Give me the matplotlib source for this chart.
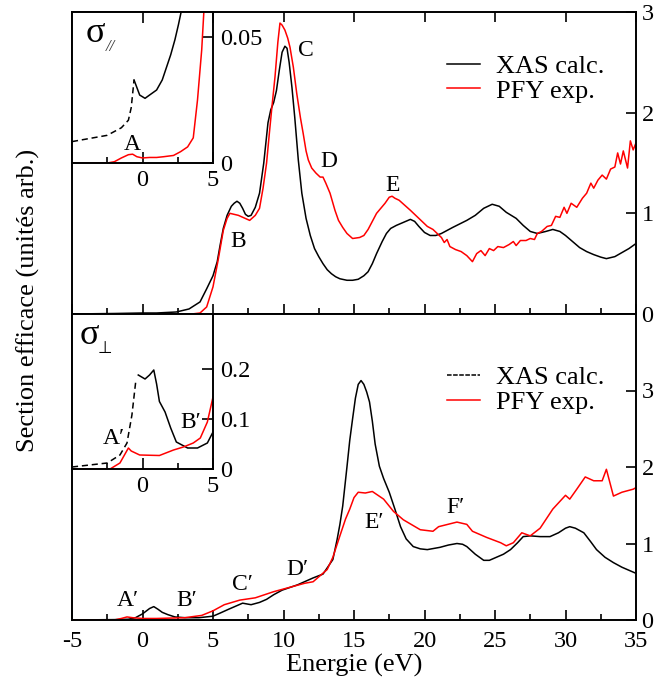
import numpy as np
import matplotlib
matplotlib.use("Agg")
import matplotlib.pyplot as plt
from matplotlib.lines import Line2D
from matplotlib.ticker import MultipleLocator

plt.rcParams['font.family'] = ['Liberation Serif', 'DejaVu Sans']
plt.rcParams['axes.unicode_minus'] = False

# ---- sigma // (top panel), main curves ----
e_xas_par = [-5, -2, 0, 1, 2.4, 3.3, 4.08, 4.55, 5.0, 5.3, 5.5, 5.73, 6.0, 6.3, 6.5, 6.7, 6.9,
             7.1, 7.3, 7.5, 7.7, 8.0, 8.3, 8.6, 8.9, 9.1, 9.3, 9.5, 9.7, 9.9, 10.1, 10.25, 10.4,
             10.6, 10.8, 11.05, 11.3, 11.6, 11.9, 12.2, 12.5, 12.8, 13.1, 13.4, 13.7, 14.0, 14.5,
             14.9, 15.3, 15.7, 16.0, 16.3, 16.6, 17.0, 17.3, 17.6, 18.0, 18.5, 19.0, 19.3, 19.6,
             20.0, 20.4, 20.8, 21.2, 22.0, 23.0, 23.6, 24.2, 24.8, 25.3, 25.8, 26.5, 27.0, 27.5,
             28.0, 28.6, 29.1, 29.6, 30.0, 30.5, 31.0, 31.5, 32.0, 32.5, 32.9, 33.5, 34.0, 34.5,
             35.0]
xas_par = [0.0, 0.005, 0.01, 0.01, 0.02, 0.05, 0.12, 0.25, 0.38, 0.52, 0.68, 0.85, 0.98, 1.07,
           1.1, 1.12, 1.1, 1.05, 0.99, 0.97, 0.98, 1.06, 1.2, 1.5, 1.9, 2.03, 2.1, 2.22, 2.42,
           2.6, 2.66, 2.64, 2.5, 2.25, 1.95, 1.53, 1.2, 0.95, 0.78, 0.65, 0.57, 0.5, 0.44, 0.4,
           0.37, 0.35, 0.335, 0.335, 0.345, 0.38, 0.42, 0.5, 0.6, 0.72, 0.8, 0.85, 0.88, 0.91,
           0.94, 0.92, 0.87, 0.81, 0.78, 0.78, 0.8, 0.86, 0.93, 0.98, 1.05, 1.09, 1.07, 1.01,
           0.95, 0.88, 0.82, 0.8, 0.82, 0.84, 0.82, 0.78, 0.72, 0.66, 0.62, 0.59, 0.565, 0.55,
           0.57, 0.61, 0.65, 0.7]

e_pfy_par = [-5, 3.5, 4.08, 4.55, 5.0, 5.37, 5.73, 6.0, 6.2, 6.8, 7.6, 8.0, 8.3, 8.55, 8.8, 9.0,
             9.16, 9.4, 9.6, 9.75, 9.9, 10.1, 10.3, 10.46, 10.7, 10.94, 11.2, 11.4, 11.6, 11.76,
             12.0, 12.3, 12.6, 12.8, 13.0, 13.3, 13.65, 13.9, 14.2, 14.5, 14.9, 15.4, 15.7, 16.0,
             16.3, 16.6, 16.9, 17.2, 17.5, 17.7, 17.9, 18.2, 18.6, 19.0, 19.3, 19.6, 20.2, 20.6,
             20.9, 21.2, 21.4, 21.6, 21.8, 22.2, 22.6, 23.0, 23.4, 23.7, 24.0, 24.3, 24.6, 24.9,
             25.2, 25.6, 26.0, 26.3, 26.5, 26.8, 27.2, 27.5, 27.8, 28.0, 28.3, 28.7, 29.0, 29.3,
             29.6, 29.9, 30.1, 30.4, 30.8, 31.2, 31.5, 31.8, 32.0, 32.3, 32.6, 32.9, 33.2, 33.5,
             33.7, 33.9, 34.1, 34.4, 34.6, 34.8, 35.0]
pfy_par = [0.0, 0.0, 0.01, 0.07, 0.27, 0.54, 0.83, 0.95, 1.0, 0.98, 0.93, 0.98, 1.05, 1.25, 1.5,
           1.8, 2.03, 2.36, 2.7, 2.89, 2.87, 2.82, 2.74, 2.65, 2.45, 2.19, 1.95, 1.79, 1.62,
           1.53, 1.45, 1.4, 1.36, 1.36, 1.3, 1.2, 1.03, 0.93, 0.86, 0.8, 0.75, 0.76, 0.78, 0.84,
           0.92, 1.0, 1.05, 1.1, 1.16, 1.17, 1.15, 1.13, 1.08, 1.03, 0.99, 0.95, 0.87, 0.84,
           0.8, 0.76, 0.71, 0.74, 0.67, 0.64, 0.62, 0.58, 0.52, 0.6, 0.63, 0.58, 0.65, 0.63,
           0.67, 0.66, 0.69, 0.72, 0.68, 0.73, 0.73, 0.75, 0.74, 0.8, 0.82, 0.87, 0.88, 0.97,
           0.96, 1.06, 1.0, 1.1, 1.06, 1.15, 1.2, 1.3, 1.25, 1.33, 1.38, 1.34, 1.44, 1.46, 1.6,
           1.49, 1.62, 1.45, 1.72, 1.63, 1.7]

# ---- sigma // inset (low energy zoom) ----
ie_xas_par = [-5, -4, -3, -2.5, -2, -1.5, -1.0, -0.8, -0.6, -0.4, -0.2, 0.18, 0.5, 1.0, 1.4,
              1.7, 2.0, 2.3, 2.55, 2.72, 3.0]
ixas_par = [0.0085, 0.0095, 0.0105, 0.011, 0.0125, 0.014, 0.017, 0.022, 0.033, 0.03, 0.027,
            0.0257, 0.027, 0.029, 0.033, 0.038, 0.043, 0.049, 0.055, 0.0595, 0.068]
ie_pfy_par = [-5, -2.5, -2.0, -1.5, -1.0, -0.7, -0.4, 0.0, 0.5, 1.0, 1.5, 2.2, 2.7, 3.2, 3.6,
              3.9, 4.2, 4.4, 4.6]
ipfy_par = [0.0, 0.0, 0.0005, 0.002, 0.0033, 0.0035, 0.0025, 0.002, 0.0022, 0.0022, 0.0025,
            0.003, 0.0045, 0.0064, 0.010, 0.025, 0.045, 0.065, 0.08]

# ---- sigma perp (bottom panel), main curves ----
e_xas_perp = [-5, -2, -1, -0.5, 0, 0.5, 0.8, 1.1, 1.4, 1.8, 2.3, 3.0, 4.0, 5.0, 5.5, 6.1, 6.6,
              7.1, 7.7, 8.3, 8.8, 9.3, 9.9, 11.0, 12.1, 12.8, 13.5, 13.8, 14.0, 14.2, 14.5, 14.7,
              14.9, 15.1, 15.3, 15.5, 15.7, 15.9, 16.1, 16.3, 16.5, 16.8, 17.1, 17.5, 17.9, 18.3,
              18.7, 19.2, 19.7, 20.2, 21.1, 21.7, 22.3, 22.7, 23.0, 23.6, 24.2, 24.6, 25.1, 25.6,
              26.1, 26.6, 27.0, 27.5, 28.2, 28.9, 29.5, 30.0, 30.3, 30.7, 31.3, 31.8, 32.2, 32.8,
              33.4, 34.0, 34.5, 35.0]
xas_perp = [0.0, 0.005, 0.01, 0.03, 0.08, 0.15, 0.175, 0.14, 0.1, 0.07, 0.04, 0.03, 0.03, 0.05,
            0.09, 0.14, 0.18, 0.22, 0.2, 0.23, 0.27, 0.33, 0.39, 0.46, 0.55, 0.6, 0.79, 1.05,
            1.25, 1.49, 2.0, 2.35, 2.63, 2.9, 3.08, 3.13, 3.08, 2.98, 2.85, 2.6, 2.3, 2.01, 1.85,
            1.67, 1.45, 1.22, 1.06, 0.96, 0.93, 0.92, 0.95, 0.98, 1.0, 0.99, 0.96, 0.86, 0.78,
            0.78, 0.82, 0.86, 0.92, 1.01, 1.09, 1.1, 1.09, 1.09, 1.14, 1.2, 1.22, 1.2, 1.14,
            1.02, 0.92, 0.82, 0.75, 0.69, 0.65, 0.61]

e_pfy_perp = [-5, -2, -1.5, -1.1, -0.7, 0, 1, 2, 3, 4.2, 5.0, 5.8, 6.9, 8.0, 9.3, 10.5, 11.5,
              12.1, 13.1, 13.5, 14.0, 14.4, 14.7, 15.0, 15.3, 15.8, 16.3, 17.1, 17.8, 18.5, 19.7,
              20.6, 21.0, 22.3, 23.0, 23.4, 24.4, 25.4, 25.8, 26.3, 26.9, 27.5, 28.2, 29.1, 30.0,
              30.3, 30.8, 31.4, 32.0, 32.6, 32.9, 33.4, 34.0, 34.8, 35.0]
pfy_perp = [0.0, 0.0, 0.02, 0.04, 0.03, 0.02, 0.02, 0.025, 0.03, 0.06, 0.12, 0.2, 0.26, 0.29,
            0.37, 0.43, 0.48, 0.5, 0.66, 0.82, 1.1, 1.32, 1.45, 1.6, 1.67, 1.66, 1.68, 1.58,
            1.42, 1.31, 1.18, 1.16, 1.22, 1.28, 1.25, 1.16, 1.08, 1.01, 0.97, 1.01, 1.14, 1.1,
            1.2, 1.45, 1.63, 1.58, 1.71, 1.87, 1.82, 1.82, 1.97, 1.62, 1.67, 1.71, 1.73]

# ---- sigma perp inset ----
ie_xas_perp = [-5, -2.5, -1.6, -1.1, -0.75, -0.46, -0.3, 0.18, 0.5, 0.8, 1.0, 1.2, 1.6, 2.0,
               2.4, 3.2, 3.9, 4.6, 5.0]
ixas_perp = [0.004, 0.012, 0.028, 0.052, 0.108, 0.18, 0.188, 0.18, 0.188, 0.198, 0.17, 0.135,
             0.114, 0.082, 0.054, 0.042, 0.042, 0.052, 0.074]
ie_pfy_perp = [-5, -2.3, -1.6, -1.0, -0.8, -0.2, 1.2, 2.2, 2.9, 3.6, 4.1, 4.6, 5.0]
ipfy_perp = [0.0, 0.0, 0.012, 0.042, 0.036, 0.028, 0.027, 0.038, 0.044, 0.052, 0.062, 0.094,
             0.144]

W, H = 657, 682
fig = plt.figure(figsize=(W / 100, H / 100), dpi=100)


def px_axes(l, t, r, b):
    return fig.add_axes([l / W, 1 - b / H, (r - l) / W, (b - t) / H])


ax1 = px_axes(72, 12, 636, 314)
ax2 = px_axes(72, 314, 636, 620)
ins1 = px_axes(72, 12, 213, 163)
ins2 = px_axes(72, 314, 213, 469)

LW = 1.1
TFS = 17.5
for ax in (ax1, ax2, ins1, ins2):
    for s in ax.spines.values():
        s.set_linewidth(1.4)

# main panels
ax1.plot(e_xas_par, xas_par, color='k', lw=LW)
ax1.plot(e_pfy_par, pfy_par, color='red', lw=LW)
ax2.plot(e_xas_perp, xas_perp, color='k', lw=LW)
ax2.plot(e_pfy_perp, pfy_perp, color='red', lw=LW)

for ax in (ax1, ax2):
    ax.set_xlim(-5, 35)
    ax.xaxis.set_major_locator(MultipleLocator(5))
    ax.xaxis.set_minor_locator(MultipleLocator(2.5))
    ax.yaxis.set_major_locator(MultipleLocator(1))
    ax.tick_params(axis='both', which='both', direction='in', width=1.2, labelsize=TFS)
    ax.tick_params(which='major', length=7)
    ax.tick_params(which='minor', length=4.5)
    ax.tick_params(axis='y', left=False, right=True, labelleft=False, labelright=True, pad=4)

ax1.set_ylim(0, 3)
ax1.tick_params(axis='x', top=True, bottom=True, labelbottom=False)
ax2.set_ylim(0, 4)
ax2.set_yticks([0, 1, 2, 3])
ax2.tick_params(axis='x', top=False, bottom=True, labelbottom=True, pad=8)
ax2.set_xlabel('Energie (eV)', fontsize=19, labelpad=1)
fig.text(28 / W, 1 - 300 / H, 'Section efficace (unités arb.)', rotation=90,
         ha='center', va='center', fontsize=19)

# legends
ax1.legend(handles=[Line2D([], [], color='k', lw=LW), Line2D([], [], color='red', lw=LW)],
           labels=['XAS calc.', 'PFY exp.'], loc='upper left', bbox_to_anchor=(0.665, 0.86),
           frameon=False, fontsize=19, handlelength=1.25, handletextpad=0.6,
           labelspacing=0.05, borderpad=0, borderaxespad=0)
ax2.legend(handles=[Line2D([], [], color='k', lw=LW, ls=(0, (3, 1))),
                    Line2D([], [], color='red', lw=LW)],
           labels=['XAS calc.', 'PFY exp.'], loc='upper left', bbox_to_anchor=(0.665, 0.83),
           frameon=False, fontsize=19, handlelength=1.25, handletextpad=0.6,
           labelspacing=0.05, borderpad=0, borderaxespad=0)

# peak labels
AFS = 17
for ax, labels in ((ax1, [('B', 6.8, 0.72), ('C', 11.6, 2.62), ('D', 13.2, 1.51), ('E', 17.7, 1.28)]),
                   (ax2, [('A\u2032', -1.06, 0.25), ('B\u2032', 3.14, 0.26), ('C\u2032', 7.07, 0.46),
                          ('D\u2032', 11.0, 0.66), ('E\u2032', 16.4, 1.27), ('F\u2032', 22.2, 1.47)])):
    for t, x, y in labels:
        ax.text(x, y, t, ha='center', va='center', fontsize=AFS)

# insets
ins1.set_zorder(5)
ins2.set_zorder(5)


def draw_inset(ax, ex, yx, ep, yp, xdash, ymax, yticks, yticklabels):
    ex = np.asarray(ex)
    yx = np.asarray(yx)
    m1 = ex <= xdash
    m2 = ex >= xdash
    ax.plot(ex[m1], yx[m1], color='k', lw=LW, ls=(0, (4, 2.5)))
    ax.plot(ex[m2], yx[m2], color='k', lw=LW)
    ax.plot(ep, yp, color='red', lw=LW)
    ax.set_xlim(-5, 5)
    ax.set_ylim(0, ymax)
    ax.set_xticks([0, 5])
    ax.set_xticks([-2.5, 2.5], minor=True)
    ax.set_yticks(yticks)
    ax.set_yticklabels(yticklabels)
    ax.tick_params(axis='both', which='both', direction='in', width=1.2, labelsize=TFS)
    ax.tick_params(which='major', length=8)
    ax.tick_params(which='minor', length=4.5)
    ax.tick_params(axis='y', left=False, right=True, labelleft=False, labelright=True, pad=5)
    ax.tick_params(axis='x', pad=5)


draw_inset(ins1, ie_xas_par, ixas_par, ie_pfy_par, ipfy_par, -0.6, 0.06,
           [0, 0.05], ['0', '0.05'])
ins1.tick_params(axis='x', top=True)
ins1.set_xticklabels(['0', '5'])
draw_inset(ins2, ie_xas_perp, ixas_perp, ie_pfy_perp, ipfy_perp, -0.4, 0.31,
           [0, 0.1, 0.2], ['0', '0.1', '0.2'])
ins2.set_xticklabels(['0', '5'])

ins1.text(-0.7, 0.0072, 'A', ha='center', va='center', fontsize=AFS)
ins2.text(-2.05, 0.062, 'A\u2032', ha='center', va='center', fontsize=AFS)
ins2.text(3.4, 0.092, 'B\u2032', ha='center', va='center', fontsize=AFS)

ins1.text(0.165, 0.855, '\u03c3', transform=ins1.transAxes, ha='center', va='center', fontsize=26)
ins1.text(0.27, 0.765, '//', transform=ins1.transAxes, ha='center', va='center', fontsize=12,
          style='italic', color='#333333')
ins2.text(0.125, 0.86, '\u03c3', transform=ins2.transAxes, ha='center', va='center', fontsize=26)
ins2.text(0.235, 0.775, '\u22a5', transform=ins2.transAxes, ha='center', va='center', fontsize=12)

fig.savefig('out.png', dpi=100)
